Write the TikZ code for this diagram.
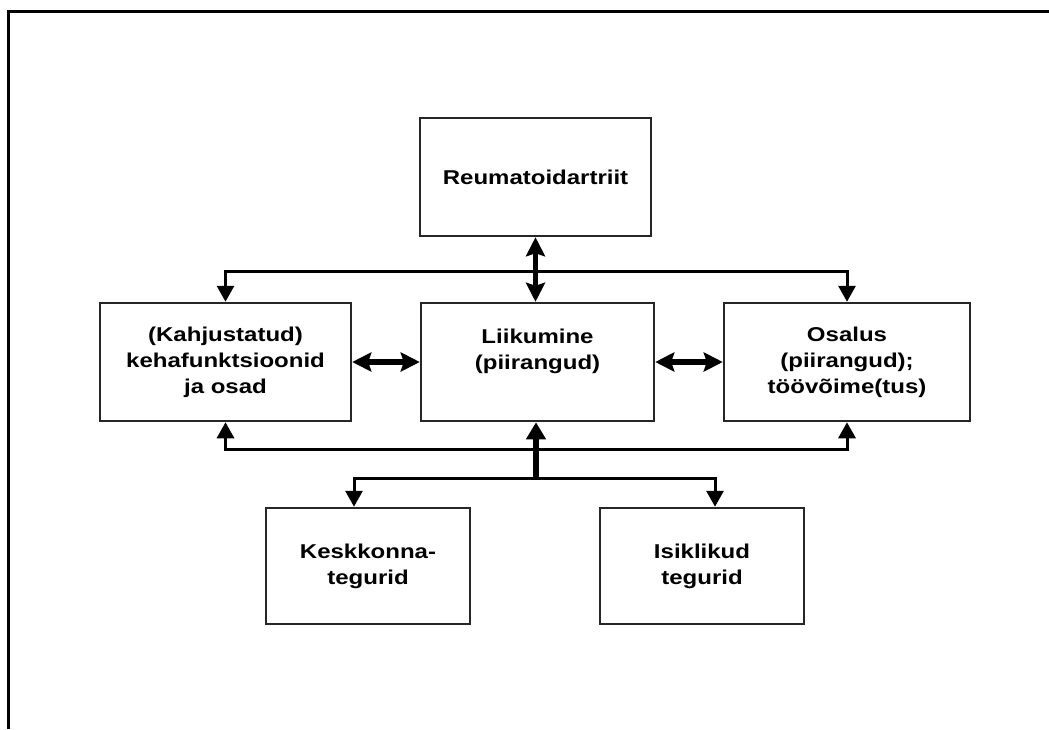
\documentclass[tikz,border=0pt]{standalone}
\usepackage{fontspec}
\newfontfamily\diagfont{Liberation Sans}[FakeStretch=1.2]
\usepackage{tikz}
\usetikzlibrary{arrows.meta,positioning}

\begin{document}
\begin{tikzpicture}[x=1pt,y=-1pt,
 font=\diagfont\bfseries\fontsize{20}{26}\selectfont,
 box/.style={draw=black!85,line width=2.5pt,inner sep=0pt,align=center,minimum height=118pt},
 bus/.style={line width=3pt,{Triangle[length=16pt,width=17pt]}-{Triangle[length=16pt,width=17pt]}},
 thickflow/.style={line width=5.5pt,-{Triangle[length=17pt,width=19pt]}},
 thickboth/.style={line width=5.5pt,{Stealth[length=19pt,width=19pt,inset=3pt]}-{Stealth[length=19pt,width=19pt,inset=3pt]}}]
\useasboundingbox (0,0) rectangle (1049,729);
\draw[line width=3pt] (8,729) -- (8,11) -- (1049,11);
% boxes
\node[box,minimum width=231pt] (ra) at (535.5,177) {Reumatoidartriit};
\node[box,minimum width=251pt] (body) at (225.5,362) {(Kahjustatud)\\kehafunktsioonid\\ja osad};
\node[box,minimum width=233pt] (move) at (537.5,362) {Liikumine\\(piirangud)\\\phantom{x}};
\node[box,minimum width=246pt] (part) at (847,362) {Osalus\\(piirangud);\\töövõime(tus)};
\node[box,minimum width=204pt,minimum height=116pt] (env) at (368,566) {Keskkonna-\\tegurid};
\node[box,minimum width=204pt,minimum height=116pt] (pers) at (702,566) {Isiklikud\\tegurid};
\coordinate (tbus) at (536,271);
\coordinate (bbus) at (536,449);
\coordinate (lbus) at (536,478);
% connectors
\draw[bus] (body.north) |- (tbus) -| (part.north);
\draw[bus] (body.south) |- (bbus) -| (part.south);
\draw[thickboth] (ra.south) -- (ra.south |- move.north);
\draw[thickboth] (body) -- (move);
\draw[thickboth] (move) -- (part);
\draw[thickflow] (lbus) -- (lbus |- move.south);
\draw[bus] ([xshift=-14pt]env.north) |- (lbus) -| ([xshift=13pt]pers.north);
\end{tikzpicture}
\end{document}
